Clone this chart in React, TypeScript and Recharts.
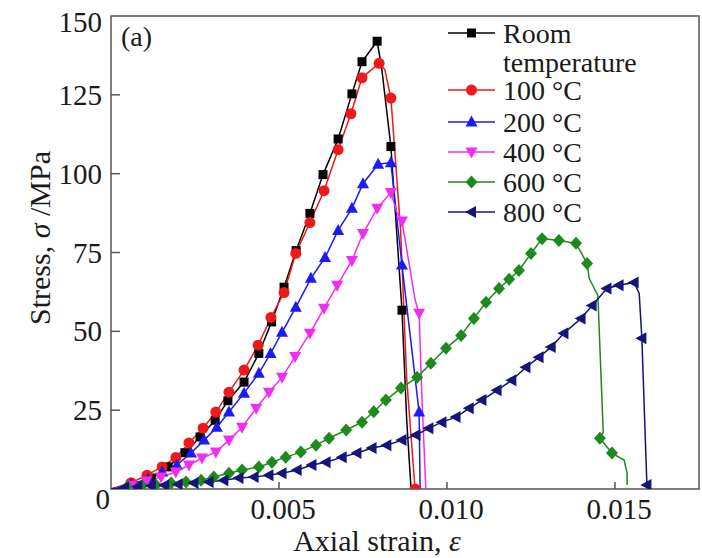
import React from "react";
import { LineChart, Line, XAxis, YAxis, ReferenceArea, Legend } from "recharts";

// [axial strain, stress (MPa)]
const roomTemp: [number, number][] = [
  [0, 0], [0.0006, 1.5], [0.0012, 3.5], [0.0017, 7], [0.0022, 11.5], [0.00265, 16.5],
  [0.0031, 21.8], [0.00348, 28], [0.00396, 33.9], [0.0044, 43], [0.00478, 53], [0.00515, 64],
  [0.00551, 75.6], [0.00592, 87.4], [0.00631, 99.7], [0.00676, 111], [0.00717, 125.3],
  [0.00747, 135.5], [0.00792, 142], [0.00805, 134], [0.00833, 108.6], [0.00866, 56.7],
  [0.0088, 22], [0.00893, 0],
];
const t100: [number, number][] = [
  [0, 0], [0.0006, 2], [0.00107, 4.4], [0.00152, 7], [0.00193, 10], [0.00232, 14.6],
  [0.00274, 19.3], [0.00312, 24.4], [0.00351, 30.7], [0.00396, 37.7], [0.00438, 45.6],
  [0.00476, 54.4], [0.00515, 62.3], [0.0055, 74.7], [0.00592, 84.5], [0.00634, 94.6],
  [0.00676, 107.6], [0.00714, 119], [0.00747, 130.4], [0.00798, 135], [0.00815, 133],
  [0.00833, 124], [0.00862, 82], [0.0088, 35], [0.00905, 0],
];
const t200: [number, number][] = [
  [0, 0], [0.0006, 1.5], [0.0011, 3.2], [0.00152, 5.4], [0.00196, 7.6], [0.00238, 11.4],
  [0.00277, 15.5], [0.00315, 19.6], [0.00351, 24.4], [0.00396, 30.4], [0.0044, 36.7],
  [0.00475, 43], [0.00509, 49.7], [0.0055, 57.6], [0.00595, 66.8], [0.00637, 73.4],
  [0.00676, 82], [0.00717, 89], [0.0075, 96.8], [0.00795, 103], [0.00833, 103.5],
  [0.00866, 71], [0.00917, 24.4], [0.0092, 0],
];
const t400: [number, number][] = [
  [0, 0], [0.0006, 1.2], [0.00105, 2.5], [0.00149, 3.8], [0.00193, 5.4], [0.00232, 7.6],
  [0.00271, 9.8], [0.00312, 11.7], [0.00351, 15.5], [0.0039, 19.6], [0.00432, 25.6],
  [0.0047, 30.7], [0.00509, 35.4], [0.00548, 42], [0.00592, 49.4], [0.00634, 57.3],
  [0.00673, 64.6], [0.00717, 72.5], [0.0075, 81], [0.00792, 89], [0.00833, 94],
  [0.0085, 88], [0.00866, 85], [0.00905, 60], [0.00917, 55.7], [0.00925, 30], [0.00937, 0],
];
const t600: [number, number][] = [
  [0, 0], [0.00048, 0.6], [0.00092, 1.0], [0.00134, 1.3], [0.00179, 1.9], [0.00223, 2.2],
  [0.00268, 2.8], [0.00306, 3.8], [0.00351, 5.0], [0.0039, 6.0], [0.0044, 7.0], [0.00479, 8.5],
  [0.0052, 10.1], [0.00565, 11.7], [0.0061, 13.9], [0.00649, 16.1], [0.007, 18.7],
  [0.00747, 21.2], [0.00782, 24.5], [0.00818, 28.2], [0.00863, 32], [0.00911, 35.4],
  [0.00952, 39.9], [0.00997, 44.6], [0.01042, 48.7], [0.0108, 54.1], [0.01116, 59.2],
  [0.01155, 63.6], [0.01185, 66.5], [0.01214, 69.3], [0.0125, 74.7], [0.01283, 79.4],
  [0.01333, 78.8], [0.01384, 77.9], [0.01417, 71.5], [0.01423, 66.8], [0.01449, 61.4],
  [0.01465, 18], [0.01455, 16.1], [0.01491, 11.4], [0.01527, 9.2], [0.01536, 5], [0.01536, 1.3],
];
const t800: [number, number][] = [
  [0, 0], [0.0004, 0.5], [0.0008, 0.8], [0.0012, 1.0], [0.0016, 1.2], [0.002, 1.5],
  [0.00247, 1.9], [0.00292, 2.2], [0.00336, 2.8], [0.00381, 3.5], [0.00426, 3.8],
  [0.0047, 4.4], [0.00509, 5.0], [0.00554, 6.0], [0.00598, 7.6], [0.0064, 8.5],
  [0.00688, 10.1], [0.00732, 11.4], [0.00777, 13.0], [0.00821, 13.9], [0.00866, 15.5],
  [0.00908, 17.1], [0.00946, 19.3], [0.00985, 21.2], [0.01027, 22.8], [0.01066, 25.6],
  [0.01104, 28.2], [0.01149, 31.3], [0.01193, 34.5], [0.01235, 38.6], [0.01274, 41.8],
  [0.0131, 45.0], [0.01348, 49.4], [0.01399, 54.1], [0.01432, 58.2], [0.01476, 63.6],
  [0.01512, 64.6], [0.01557, 65.5], [0.01572, 62], [0.0158, 47.8], [0.0159, 16.5], [0.01595, 1.3],
];

// indices of points on each curve that carry no marker
const roomPlain = [0, 19, 22, 23];
const t100Plain = [0, 20, 22, 23];
const t200Plain = [0, 23];
const t400Plain = [0, 21, 23, 25, 26];
const t600Plain = [0, 35, 36, 37, 40, 41, 42];
const t800Plain = [0, 38, 40];

const strainTicks = [0.005, 0.01, 0.015];
const stressTicks = [0, 25, 50, 75, 100, 125, 150];

const txt: React.CSSProperties = { fontFamily: "'Liberation Serif', 'Times New Roman', serif", fill: "#1a1a1a" };

type Shape = "square" | "circle" | "up" | "down" | "diamond" | "left";

const series: { key: string; label: string[]; color: string; shape: Shape; pts: [number, number][]; plain: number[] }[] = [
  { key: "rt", label: ["Room", "temperature"], color: "#000000", shape: "square", pts: roomTemp, plain: roomPlain },
  { key: "t100", label: ["100 °C"], color: "#f01818", shape: "circle", pts: t100, plain: t100Plain },
  { key: "t200", label: ["200 °C"], color: "#1c1cf0", shape: "up", pts: t200, plain: t200Plain },
  { key: "t400", label: ["400 °C"], color: "#f22cf2", shape: "down", pts: t400, plain: t400Plain },
  { key: "t600", label: ["600 °C"], color: "#1d8a1d", shape: "diamond", pts: t600, plain: t600Plain },
  { key: "t800", label: ["800 °C"], color: "#14147a", shape: "left", pts: t800, plain: t800Plain },
];

function marker(shape: Shape, cx: number, cy: number, color: string, key?: string) {
  switch (shape) {
    case "square":
      return <rect key={key} x={cx - 4.5} y={cy - 4.5} width={9} height={9} fill={color} />;
    case "circle":
      return <circle key={key} cx={cx} cy={cy} r={5.5} fill={color} />;
    case "up":
      return <path key={key} d={`M${cx},${cy - 6.5}L${cx + 6},${cy + 4.5}L${cx - 6},${cy + 4.5}Z`} fill={color} />;
    case "down":
      return <path key={key} d={`M${cx},${cy + 6.5}L${cx + 6},${cy - 4.5}L${cx - 6},${cy - 4.5}Z`} fill={color} />;
    case "diamond":
      return <path key={key} d={`M${cx},${cy - 6.5}L${cx + 6},${cy}L${cx},${cy + 6.5}L${cx - 6},${cy}Z`} fill={color} />;
    default:
      return <path key={key} d={`M${cx - 6.5},${cy}L${cx + 4.5},${cy - 6}L${cx + 4.5},${cy + 6}Z`} fill={color} />;
  }
}

const YTick = (props: any) => {
  const { x, y, payload } = props;
  const v = payload.value;
  if (v === 0) {
    return (
      <text x={x - 1} y={y + 20} textAnchor="end" fontSize={29} style={txt}>
        0
      </text>
    );
  }
  const edge = v === 150;
  return (
    <g>
      {!edge && <line x1={x} x2={x + 9} y1={y} y2={y} stroke="#555" strokeWidth={1.5} />}
      <text x={x - 9} y={y + (edge ? 16 : 10)} textAnchor="end" fontSize={29} style={txt}>
        {v}
      </text>
    </g>
  );
};

const XTick = (props: any) => {
  const { x, y, payload } = props;
  return (
    <g>
      <line x1={x} x2={x} y1={y} y2={y - 7} stroke="#555" strokeWidth={1.5} />
      <text x={x + 4} y={y + 30} textAnchor="middle" fontSize={29} style={txt}>
        {Number(payload.value).toFixed(3)}
      </text>
    </g>
  );
};

const LegendBox = () => {
  const rows = [33, 90, 122, 152, 182, 212];
  return (
    <svg width={260} height={240} style={{ display: "block" }}>
      {series.map((s, i) => {
        const y = rows[i];
        return (
          <g key={s.key}>
            <line x1={8} x2={55} y1={y} y2={y} stroke={s.color} strokeWidth={1.5} />
            {marker(s.shape, 31.5, y, s.color)}
            {s.label.map((t, j) => (
              <text key={t} x={63} y={y + 10 + j * 29} fontSize={28} style={txt}>
                {t}
              </text>
            ))}
          </g>
        );
      })}
    </svg>
  );
};

export default function App() {
  return (
    <div style={{ position: "absolute", left: 0, top: 0, background: "#fff" }}>
      <LineChart width={702} height={558} margin={{ top: 16, right: 3, left: 0, bottom: 0 }}>
        <XAxis
          dataKey="x"
          type="number"
          domain={[0, 0.0175]}
          ticks={strainTicks}
          allowDataOverflow
          height={69}
          axisLine={false}
          tickLine={false}
          tickSize={0}
          tickMargin={0}
          tick={<XTick />}
        />
        <YAxis
          type="number"
          domain={[0, 150]}
          ticks={stressTicks}
          allowDataOverflow
          width={111}
          axisLine={false}
          tickLine={false}
          tickSize={0}
          tickMargin={0}
          tick={<YTick />}
        />
        <ReferenceArea x1={0} x2={0.0175} y1={0} y2={150} fill="none" stroke="#555" strokeWidth={1.5} />
        {series.map((s) => (
          <Line
            key={s.key}
            data={s.pts.map(([x, y]) => ({ x, y }))}
            dataKey="y"
            name={s.label.join(" ")}
            type="linear"
            stroke={s.color}
            strokeWidth={1.5}
            isAnimationActive={false}
            activeDot={false}
            dot={(p: any) =>
              s.plain.includes(p.index) ? <g key={`${s.key}-${p.index}`} /> : marker(s.shape, p.cx, p.cy, s.color, `${s.key}-${p.index}`)
            }
          />
        ))}
        <Legend
          layout="vertical"
          align="center"
          verticalAlign="middle"
          wrapperStyle={{ position: "absolute", left: 440, top: 0, width: 260, height: 240 }}
          content={() => <LegendBox />}
        />
        <text x={121} y={46} fontSize={28} style={txt}>
          (a)
        </text>
        <text x={377} y={551} textAnchor="middle" fontSize={30} style={txt}>
          Axial strain, <tspan fontStyle="italic">ε</tspan>
        </text>
        <text transform="translate(50,238) rotate(-90)" textAnchor="middle" fontSize={30} style={txt}>
          Stress, <tspan fontStyle="italic">σ</tspan> /MPa
        </text>
      </LineChart>
    </div>
  );
}
